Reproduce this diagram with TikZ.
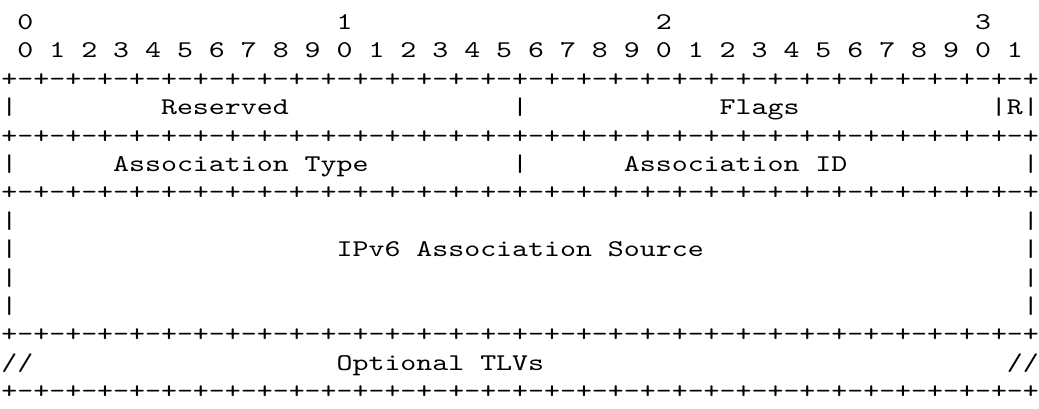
\documentclass[tikz,border=0pt]{standalone}
\usepackage{fontspec}
\newfontfamily\bitfont{lmmono10-regular.otf}[FakeStretch=1.2667]
\usepackage{tikz}

\newcommand{\octet}{-+-+-+-+-+-+-+-+}
\newcommand{\bitrule}{+\octet\octet\octet\octet}

\begin{document}
\begin{tikzpicture}[x=11.97pt,y=-21.3pt,
  cell/.style={anchor=base west,inner sep=0pt,font=\fontsize{18pt}{21.3pt}\selectfont\bitfont}]
\useasboundingbox (-0.9pt,22.1pt) rectangle (778.35pt,-283.9pt);

\foreach \d in {0,...,3}
  \node[cell] (dec\d) at (20*\d+1,0) {\d};
\foreach \b in {0,...,31} {
  \pgfmathtruncatemacro{\digit}{mod(\b,10)}
  \node[cell] (bit\b) at (2*\b+1,1) {\digit};
}

\foreach \r/\l in {0/2,1/4,2/6,3/11,4/13}
  \node[cell] (rule\r) at (0,\l) {\bitrule};

\foreach \l in {3,5,7,8,9,10} {
  \node[cell] (left\l) at (0,\l) {|};
  \node[cell] (right\l) at (64,\l) {|};
}
\node[cell] (mid3) at (32,3) {|};
\node[cell] (mid5) at (32,5) {|};
\node[cell] (rbar) at (62,3) {|};

\node[cell] (reserved) at (10,3) {Reserved};
\node[cell] (flags) at (45,3) {Flags};
\node[cell] (rflag) at (63,3) {R};

\node[cell] (assoctype) at (7,5) {Association Type};
\node[cell] (associd) at (39,5) {Association ID};

\node[cell] (source) at (21,8) {IPv6 Association Source};

\node[cell] (contl) at (0,12) {//};
\node[cell] (tlvs) at (21,12) {Optional TLVs};
\node[cell] (contr) at (63,12) {//};
\end{tikzpicture}
\end{document}
